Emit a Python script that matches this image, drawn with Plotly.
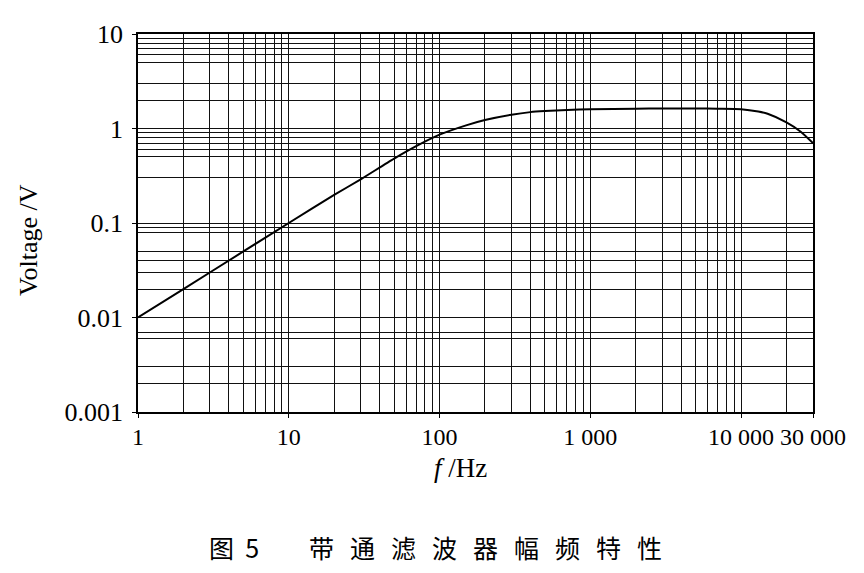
import plotly.graph_objects as go

# Curve
freq_hz = [1, 2, 5, 10, 20, 30, 50, 70, 100, 150, 200, 300, 400, 500, 700,
           1000, 2000, 3000, 5000, 7000, 10000, 13000, 15000, 20000, 25000, 30000]
voltage_v = [0.01, 0.02, 0.05, 0.1, 0.198, 0.29, 0.48, 0.65, 0.86, 1.08, 1.23, 1.40, 1.49,
             1.53, 1.57, 1.60, 1.62, 1.63, 1.63, 1.62, 1.60, 1.51, 1.43, 1.16, 0.92, 0.70]

# Axis ticks
x_tickvals = [1, 10, 100, 1000, 10000, 30000]
x_ticktext = ["1", "10", "100", "1 000", "10 000", "30 000"]
y_tickvals = [0.001, 0.01, 0.1, 1, 10]
y_ticktext = ["0.001", "0.01", "0.1", "1", "10"]

# Minor grid lines visible in the picture
x_grid = [m * d for d in [1, 10, 100, 1000] for m in range(2, 10)] + [20000]
y_grid = [9, 8, 7, 6, 5, 3, 2,
          0.9, 0.8, 0.7, 0.6, 0.5, 0.3,
          0.09, 0.08, 0.05, 0.04, 0.03, 0.02,
          0.007, 0.006, 0.003, 0.002]

x_title = "<i>f</i> /Hz"
y_title = "Voltage /V"
caption = "图\u00a0\u00a05　　<span style=\"letter-spacing:16px\">带通滤波器幅频特性</span>"

SERIF = "Liberation Serif, Times New Roman, serif"

fig = go.Figure()
fig.add_trace(go.Scatter(
    x=freq_hz, y=voltage_v, mode="lines",
    line=dict(color="black", width=2, shape="spline", smoothing=0.6),
    showlegend=False, hoverinfo="skip",
))

grid_color = "#111111"
fig.update_xaxes(
    type="log", range=[0, 4.4771],
    tickvals=x_tickvals, ticktext=x_ticktext, tickangle=0,
    ticks="outside", ticklen=4, tickcolor="black", tickwidth=1,
    showgrid=True, gridcolor=grid_color, gridwidth=1,
    minor=dict(tickvals=x_grid, showgrid=True, gridcolor=grid_color, gridwidth=1, ticks=""),
    showline=True, linecolor="black", linewidth=1.5, mirror=True,
    tickfont=dict(family=SERIF, size=24, color="black"),
    ticklabelstandoff=-2, zeroline=False,
)
fig.update_yaxes(
    type="log", range=[-3, 1],
    tickvals=y_tickvals, ticktext=y_ticktext,
    ticks="outside", ticklen=4, tickcolor="black", tickwidth=1,
    showgrid=True, gridcolor=grid_color, gridwidth=1,
    minor=dict(tickvals=y_grid, showgrid=True, gridcolor=grid_color, gridwidth=1, ticks=""),
    showline=True, linecolor="black", linewidth=1.5, mirror=True,
    tickfont=dict(family=SERIF, size=26, color="black"),
    ticklabelstandoff=4, zeroline=False,
)

fig.update_layout(
    width=864, height=573,
    margin=dict(l=130, r=59, t=24, b=169),
    paper_bgcolor="white", plot_bgcolor="white",
    annotations=[
        dict(text=x_title, xref="paper", yref="paper", x=0.4785, y=-0.147,
             showarrow=False, xanchor="center", yanchor="middle",
             font=dict(family=SERIF, size=27, color="black")),
        dict(text=y_title, xref="paper", yref="paper", x=-0.163, y=0.455,
             showarrow=False, xanchor="center", yanchor="middle", textangle=-90,
             font=dict(family=SERIF, size=26, color="black")),
        dict(text=caption, xref="paper", yref="paper", x=0.452, y=-0.358,
             showarrow=False, xanchor="center", yanchor="middle",
             font=dict(family="Noto Sans CJK SC", size=25, color="black")),
    ],
)

fig.write_html("out.html")
